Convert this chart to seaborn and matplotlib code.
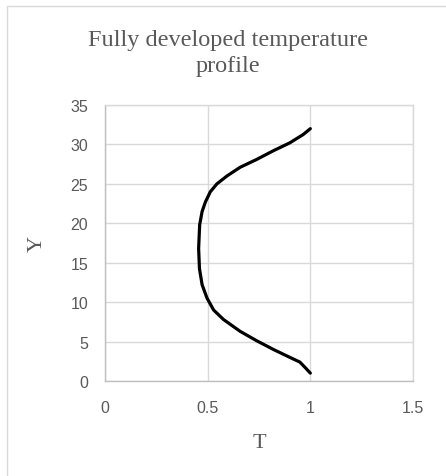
import matplotlib
matplotlib.use("Agg")
import matplotlib.pyplot as plt
import seaborn as sns
import pandas as pd
from matplotlib.lines import Line2D

# values (T against Y)
y_vals = [1.0, 1.7, 2.4, 3.0, 4.0, 5.1, 6.3, 7.8, 9.0, 10.5, 12.2, 14.25, 16.8,
          19.8, 21.5, 22.7, 24.0, 25.0, 26.0, 27.1, 28.1, 29.2, 30.2, 31.25, 32.0]
t_vals = [1.0, 0.975, 0.949, 0.90, 0.82, 0.739, 0.658, 0.577, 0.529, 0.497, 0.473, 0.46, 0.456,
          0.461, 0.473, 0.489, 0.513, 0.545, 0.594, 0.658, 0.739, 0.82, 0.90, 0.965, 1.0]
x_ticks = [0, 0.5, 1, 1.5]
y_ticks = [0, 5, 10, 15, 20, 25, 30, 35]

df = pd.DataFrame({"T": t_vals, "Y": y_vals})

sns.set_style("whitegrid")
gray = "#595959"

fig = plt.figure(figsize=(4.46, 4.77), dpi=100)
ax = fig.add_axes([105 / 446, 1 - 382 / 477, 308 / 446, 276 / 477])

sns.lineplot(data=df, x="T", y="Y", sort=False, estimator=None,
             color="black", linewidth=2.3, ax=ax)
for ln in ax.lines:
    ln.set_solid_joinstyle("round")
    ln.set_solid_capstyle("round")

ax.set_xlim(0, 1.5)
ax.set_ylim(0, 35)
ax.set_xticks(x_ticks)
ax.set_xticklabels(["0", "0.5", "1", "1.5"])
ax.set_yticks(y_ticks)
ax.grid(True, color="#d9d9d9", linewidth=1.0)
for side in ["top", "right"]:
    ax.spines[side].set_color("#d9d9d9")
for side in ["left", "bottom"]:
    ax.spines[side].set_color("#bfbfbf")
for sp in ax.spines.values():
    sp.set_linewidth(1.0)

ax.tick_params(axis="both", length=0, labelsize=11.5, labelcolor=gray)
ax.tick_params(axis="x", pad=14)
ax.tick_params(axis="y", pad=12)
for lbl in ax.get_xticklabels() + ax.get_yticklabels():
    lbl.set_fontfamily("Liberation Sans")

serif = "Liberation Serif"
ax.set_xlabel("T", fontsize=16, color=gray, fontfamily=serif)
ax.set_ylabel("Y", fontsize=16, color=gray, fontfamily=serif)
ax.xaxis.set_label_coords(0.5, -0.19)
ax.yaxis.set_label_coords(-0.19, 0.5)

fig.text(228 / 446, 1 - 30 / 477, "Fully developed temperature\nprofile",
         ha="center", va="top", fontsize=17.5, color=gray, fontfamily=serif,
         linespacing=1.3)

# chart area border (Excel style)
fig.add_artist(Line2D([7 / 446, 1], [1 - 7 / 477, 1 - 7 / 477], color="#d9d9d9", linewidth=1.0))
fig.add_artist(Line2D([7 / 446, 7 / 446], [0, 1 - 7 / 477], color="#d9d9d9", linewidth=1.0))

fig.savefig("out.png", dpi=100)
